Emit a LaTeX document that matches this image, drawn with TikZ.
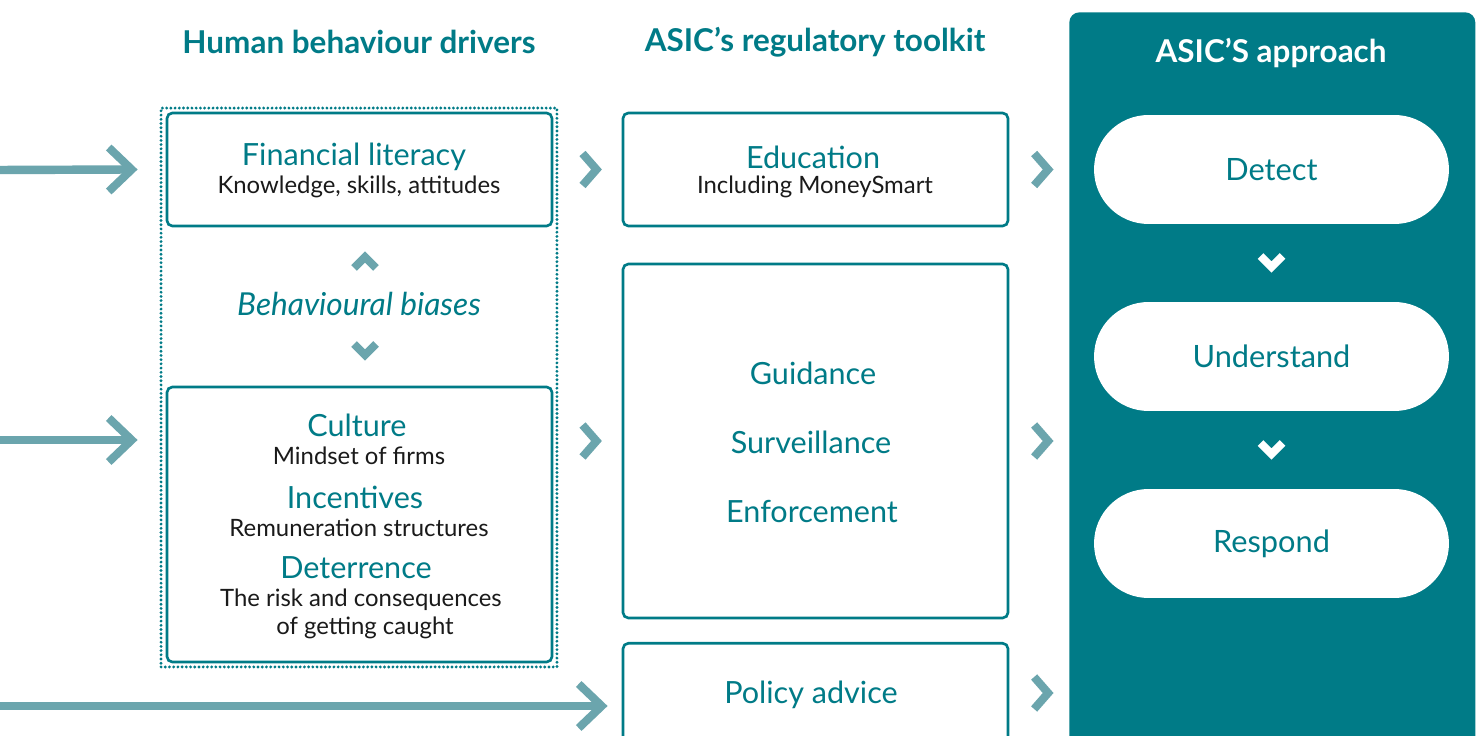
\documentclass[tikz,border=0pt]{standalone}
\usepackage{fontspec}
\setmainfont{Lato}
\usetikzlibrary{calc}
\definecolor{teal}{HTML}{007B87}
\definecolor{arrowc}{HTML}{6BA5AD}
\definecolor{ink}{HTML}{1A1A1A}
\tikzset{
  box/.style={draw=teal, line width=1.5pt, rounded corners=3pt, fill=white,
    minimum width=7.7cm, inner sep=0pt},
  pill/.style={fill=white, rounded corners=1.09cm, minimum width=7.1cm,
    minimum height=2.18cm, inner sep=0pt, text=teal, font=\fontsize{17.5}{21}\selectfont},
  head/.style={text=teal, font=\bfseries\fontsize{17.9}{21}\selectfont},
  title/.style={text=teal, font=\fontsize{17.4}{21}\selectfont},
  sub/.style={text=ink, font=\fontsize{13.6}{16}\selectfont},
  chev/.style={draw=arrowc, line width=4.6pt, line join=miter, line cap=butt},
  wchev/.style={draw=white, line width=4.6pt, line join=miter, line cap=butt},
  flow/.style={draw=arrowc, line width=4.8pt},
}
\newcommand{\chevright}[2][chev]{\draw[#1] ($(#2)+(-7,-16)$) -- ($(#2)+(7,0)$) -- ($(#2)+(-7,16)$);}
\newcommand{\chevdown}[2][chev]{\draw[#1] ($(#2)+(-11,-6)$) -- ($(#2)+(0,5)$) -- ($(#2)+(11,-6)$);}
\newcommand{\chevup}[2][chev]{\draw[#1] ($(#2)+(-11,6)$) -- ($(#2)+(0,-5)$) -- ($(#2)+(11,6)$);}
\begin{document}
\begin{tikzpicture}[x=0.02cm, y=-0.02cm]
\clip (0,0) rectangle (1482,736);
\fill[white] (0,0) rectangle (1482,736);

% column headings
\node[head] (h1) at (359,42) {Human behaviour drivers};
\node[head] (h2) at (815,42) {ASIC’s regulatory toolkit};

% right-hand panel
\node[fill=teal, rounded corners=0.2cm, minimum width=8.12cm, minimum height=15.8cm,
  inner sep=0pt, anchor=north west] (panel) at (1069,12) {};
\node[head, text=white] (h3) at (1271,53) {ASIC’S approach};
\node[pill] (detect) at (1271.5,169.5) {Detect};
\node[pill] (underst) at (1271.5,356.5) {Understand};
\node[pill] (respond) at (1271.5,543.5) {Respond};
\chevdown[wchev]{$(detect.south)!0.5!(underst.north)+(0,-1)$}
\chevdown[wchev]{$(underst.south)!0.5!(respond.north)+(0,-1)$}

% human behaviour drivers
\node[draw=teal, line width=1.8pt, dash pattern=on 0pt off 2.4pt, line cap=round,
  minimum width=7.92cm, minimum height=11.18cm, inner sep=0pt] (drivers) at (359,387.5) {};
\node[box, minimum height=2.26cm] (fl) at (359.5,169.5) {};
\node[title] (flt) at (354,157) {Financial literacy};
\node[sub] (fls) at (359,187) {Knowledge, skills, attitudes};
\node[title, font=\itshape\fontsize{18}{21}\selectfont] (bias) at (359,304) {Behavioural biases};
\chevup{365,262}
\chevdown{365,350}
\node[box, minimum height=5.5cm] (cult) at (359.5,524.5) {};
\node[title] (ct) at (357,425) {Culture};
\node[sub] (cs) at (359,456) {Mindset of firms};
\node[title] (it) at (355,497) {Incentives};
\node[sub] (is) at (359,528) {Remuneration structures};
\node[title] (dt) at (356,568) {Deterrence};
\node[sub] (ds1) at (361,600) {The risk and consequences};
\node[sub] (ds2) at (365,628) {of getting caught};

% regulatory toolkit
\node[box, minimum height=2.26cm] (edu) at (815.5,169.5) {};
\node[title] (et) at (813,157) {Education};
\node[sub] (es) at (815,187) {Including MoneySmart};
\node[box, minimum height=7.08cm] (mid) at (815.5,441) {};
\node[title] (gt) at (813,373) {Guidance};
\node[title] (st) at (811,442) {Surveillance};
\node[title] (ent) at (812,512) {Enforcement};
\node[box, minimum height=3cm, anchor=north] (pol) at (815.5,642) {};
\node[title] (pt) at (811,695) {Policy advice};

% incoming arrows
\coordinate (in1) at (0,170);
\coordinate (in2) at (0,440);
\coordinate (in3) at (0,706);
\coordinate (tip1) at ($(fl.west)+(-34,0)$);
\coordinate (tip2) at ($(cult.west|-in2)+(-34,0)$);
\coordinate (tip3) at ($(pol.west|-in3)+(-20,0)$);
\foreach \a/\b in {in1/tip1, in2/tip2, in3/tip3}{
  \draw[flow] (\a) -- ($(\b)+(-2,0)$);
  \draw[chev] ($(\b)+(-23,-22)$) -- (\b) -- ($(\b)+(-23,22)$);
}

% chevrons between columns
\chevright{$(fl.east)!0.5!(edu.west)+(2,0)$}
\chevright{$(cult.east|-mid.center)!0.5!(mid.west)+(2,0)$}
\chevright{$(edu.east)!0.5!(panel.west|-edu.east)+(2,0)$}
\chevright{$(mid.east)!0.5!(panel.west|-mid.east)+(2,0)$}
\chevright{$(mid.east|-pt)!0.5!(panel.west|-pt)+(2,-2)$}
\end{tikzpicture}
\end{document}
